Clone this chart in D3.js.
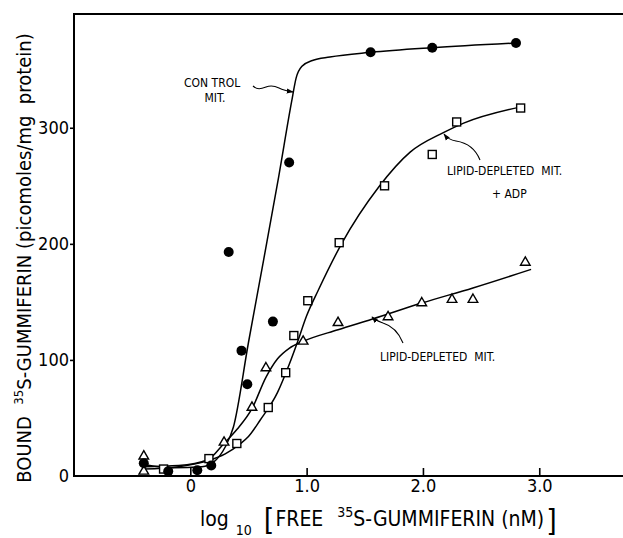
<!DOCTYPE html>
<html>
<head>
<meta charset="utf-8">
<script src="https://cdn.jsdelivr.net/npm/d3@7"></script>
<style>
  body { margin: 0; background: #fff; }
  svg { display: block; }
  text { font-family: 'DejaVu Sans Condensed', 'DejaVu Sans', sans-serif; font-stretch: condensed; fill: #000; }
</style>
</head>
<body>
<svg id="chart" width="623" height="538"></svg>
<script>
// Measured binding: log10 free concentration (nM) vs bound (pmol/mg protein)
const controlX = [-0.40, -0.19, 0.06, 0.18, 0.33, 0.44, 0.49, 0.71, 0.85, 1.55, 2.08, 2.80];
const controlY = [11, 4, 5, 9, 193, 108, 79, 133, 270, 365, 369, 373];

const adpX = [-0.23, 0.16, 0.40, 0.67, 0.82, 0.89, 1.01, 1.28, 1.67, 2.08, 2.29, 2.84];
const adpY = [6, 15, 28, 59, 89, 121, 151, 201, 250, 277, 305, 317];

const lipidX = [-0.40, -0.40, 0.29, 0.53, 0.65, 0.97, 1.27, 1.70, 1.99, 2.25, 2.43, 2.88];
const lipidY = [17, 4, 29, 59, 93, 116, 132, 137, 149, 152, 152, 184];

// Hand-fitted curves through each series
const controlFitX = [-0.40, -0.15, 0.10, 0.20, 0.30, 0.37, 0.50, 0.63, 0.76, 0.87, 0.91, 0.96, 1.05, 1.20, 1.55, 2.08, 2.80];
const controlFitY = [10, 7, 8, 12, 25, 42, 115, 186, 258, 322, 343, 353, 358, 361, 365, 369, 373];

const adpFitX = [-0.40, -0.10, 0.15, 0.30, 0.42, 0.50, 0.60, 0.75, 0.85, 0.92, 1.00, 1.10, 1.30, 1.62, 1.89, 2.18, 2.35, 2.84];
const adpFitY = [6, 8, 13, 19, 27, 34, 48, 72, 96, 115, 138, 160, 200, 249, 279, 296, 304, 318];

const lipidFitX = [-0.40, -0.10, 0.15, 0.28, 0.40, 0.53, 0.65, 0.75, 0.85, 0.97, 1.27, 1.56, 1.99, 2.43, 2.93];
const lipidFitY = [8, 9, 14, 27, 40, 58, 85, 101, 110, 116, 126, 135, 149, 162, 178];

const xTicks = [0, 1, 2, 3];
const xTickLabels = ["0", "1.0", "2.0", "3.0"];
const yTicks = [0, 100, 200, 300];
const yTickLabels = ["0", "100", "200", "300"];

const svg = d3.select("#chart");
const plotLeft = 74, plotRight = 623, plotTop = 14, plotBottom = 476;

const x = d3.scaleLinear().domain([-1, 3.72]).range([plotLeft, plotRight]);
const y = d3.scaleLinear().domain([0, 398]).range([plotBottom, plotTop]);

// arrowhead for the leader lines
svg.append("defs").append("marker")
  .attr("id", "arrow").attr("viewBox", "0 0 10 10")
  .attr("refX", 9).attr("refY", 5)
  .attr("markerWidth", 7).attr("markerHeight", 7)
  .attr("markerUnits", "userSpaceOnUse")
  .attr("orient", "auto")
  .append("path").attr("d", "M0,1.5 L10,5 L0,8.5 Z").attr("fill", "#000");

// axes
const xAxis = d3.axisBottom(x).tickValues(xTicks)
  .tickFormat((d, i) => xTickLabels[i]).tickSizeInner(-8).tickSizeOuter(0).tickPadding(3);
const yAxis = d3.axisLeft(y).tickValues(yTicks)
  .tickFormat((d, i) => yTickLabels[i]).tickSizeInner(4).tickSizeOuter(0).tickPadding(1);

const gx = svg.append("g").attr("transform", `translate(0,${plotBottom})`).call(xAxis);
const gy = svg.append("g").attr("transform", `translate(${plotLeft},0)`).call(yAxis);
[gx, gy].forEach(g => {
  g.select(".domain").remove();
  g.selectAll(".tick line").attr("stroke", "#000").attr("stroke-width", 1.6);
  g.selectAll(".tick text").style("font-size", "18px").attr("fill", "#000");
});
gy.selectAll(".tick").filter(d => d === 0).select("line").remove();

// frame: top, left and bottom edges
svg.append("path")
  .attr("d", `M${plotRight},${plotTop} H${plotLeft} V${plotBottom} H${plotRight}`)
  .attr("fill", "none").attr("stroke", "#000").attr("stroke-width", 2);

// fitted curves
const line = d3.line().x(d => x(d[0])).y(d => y(d[1])).curve(d3.curveMonotoneX);
[[controlFitX, controlFitY], [adpFitX, adpFitY], [lipidFitX, lipidFitY]].forEach(([xs, ys]) => {
  svg.append("path")
    .datum(xs.map((v, i) => [v, ys[i]]))
    .attr("d", line)
    .attr("fill", "none").attr("stroke", "#000").attr("stroke-width", 1.5);
});

// data points
const pts = (xs, ys) => xs.map((v, i) => [v, ys[i]]);

svg.append("g").selectAll("path")
  .data(pts(lipidX, lipidY)).join("path")
  .attr("transform", d => `translate(${x(d[0])},${y(d[1])})`)
  .attr("d", d3.symbol(d3.symbolTriangle, 40)())
  .attr("fill", "#fff").attr("stroke", "#000").attr("stroke-width", 1.4);

svg.append("g").selectAll("rect")
  .data(pts(adpX, adpY)).join("rect")
  .attr("x", d => x(d[0]) - 4).attr("y", d => y(d[1]) - 4)
  .attr("width", 8).attr("height", 8)
  .attr("fill", "#fff").attr("stroke", "#000").attr("stroke-width", 1.4);

svg.append("g").selectAll("circle")
  .data(pts(controlX, controlY)).join("circle")
  .attr("cx", d => x(d[0])).attr("cy", d => y(d[1])).attr("r", 5)
  .attr("fill", "#000");

// annotations and leaders
const note = (tx, ty, str, anchor) => svg.append("text")
  .attr("x", tx).attr("y", ty).attr("text-anchor", anchor || "start")
  .style("font-size", "12px").style("white-space", "pre").text(str);

note(184, 87, "CON TROL");
note(215, 102, "MIT.", "middle");
note(447, 175, "LIPID-DEPLETED  MIT.");
note(492, 198, "+ ADP");
note(380, 361, "LIPID-DEPLETED  MIT.");

const leader = d => svg.append("path").attr("d", d)
  .attr("fill", "none").attr("stroke", "#000").attr("stroke-width", 1.1)
  .attr("marker-end", "url(#arrow)");
leader("M253,86 C257,90 261,89 266,87 C271,85 275,86 279,88 C283,90 287,91 293,92");
leader("M480,160 C476,150 469,143 456,141 C450,140 447,138 444,134");
leader("M403,343 C399,333 393,326 383,323 C378,321 375,320 372,317");

// axis titles
const yTitle = svg.append("text")
  .attr("transform", "translate(31,258) rotate(-90)")
  .attr("text-anchor", "middle")
  .style("font-size", "20px").style("white-space", "pre");
yTitle.append("tspan").text("BOUND  ");
yTitle.append("tspan").text("35").style("font-size", "13px").attr("dy", -8);
yTitle.append("tspan").text("S-GUMMIFERIN (picomoles/mg  protein)").attr("dy", 8);

const xTitle = svg.append("text")
  .attr("x", 200).attr("y", 526)
  .style("font-size", "21px").style("white-space", "pre");
xTitle.append("tspan").text("log");
xTitle.append("tspan").text("10").style("font-size", "14px").attr("dx", 7).attr("dy", 9);
xTitle.append("tspan").text("[").style("font-size", "30px").attr("dx", 12).attr("dy", -5);
xTitle.append("tspan").text("FREE").attr("dx", 1).attr("dy", -4);
xTitle.append("tspan").text("35").style("font-size", "14px").attr("dx", 14).attr("dy", -9);
xTitle.append("tspan").text("S-GUMMIFERIN (nM)").attr("dy", 9);
xTitle.append("tspan").text("]").style("font-size", "30px").attr("dx", 2).attr("dy", 5);
</script>
</body>
</html>
